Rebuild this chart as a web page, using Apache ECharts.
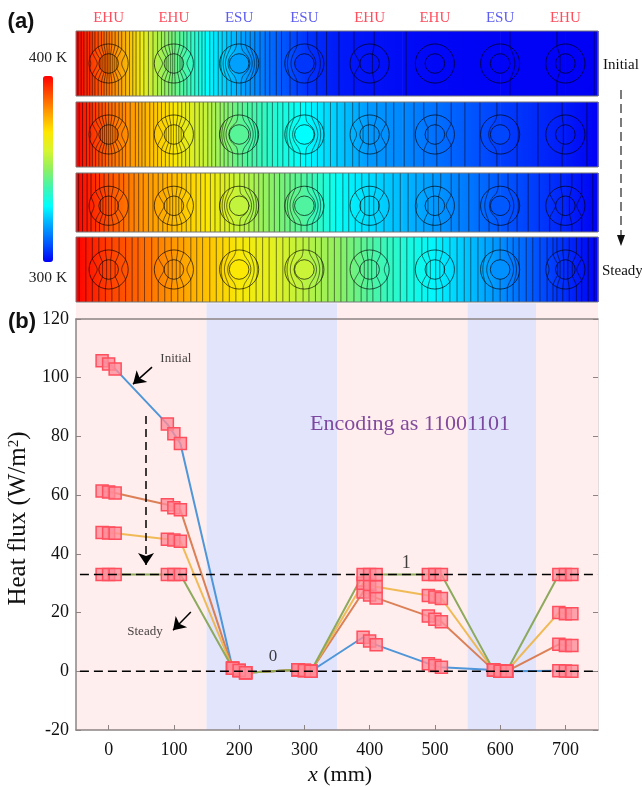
<!DOCTYPE html>
<html><head><meta charset="utf-8">
<style>html,body{margin:0;padding:0;background:#fff}#c{width:642px;height:787px;filter:blur(.3px)}</style>
<script src="https://cdn.jsdelivr.net/npm/echarts@6/dist/echarts.min.js"></script>
</head><body><div id="c"></div>
<script>
// ---------- panel (a) data ----------
const unitCenters=[0,100,200,300,400,500,600,700];
const unitBits=[1,1,0,0,1,1,0,1];
const unitNames=['EHU','EHU','ESU','ESU','EHU','EHU','ESU','EHU'];
const tempX=[-50,0,50,100,150,200,250,300,350,400,450,500,550,600,650,700,750];
const tempP1=[400,385,366,346,330,320,312,306,303,302,301.2,300.8,300.5,300.4,300.3,300.2,300];
const tempP2=[400,387,378,369,357,344,336,330,324,318,316,313,310,307,305,303,300];
const tempP3=[400,390,382,376,369,357,349,342,331,326,322,318,314,310,307,304,300];
const tempP4=[400,392,387,381,375,368,363,356,350,342,335,329,323,317,310,305,300];
const coreP1=[0,0,319,306,0,0,300.5,0];
const coreP2=[0,0,343,330,0,0,308,0];
const coreP3=[0,0,357,342,0,0,310,0];
const coreP4=[0,0,369,358,0,0,317,0];
const isoP1=[-47,-42,-38,-33,-29,-25,-21,-16,-11,-7,-3,1,5,10,15,20,26,32,37,42,48,54,61,68,75,81,86,92,97,102,109,115,120,126,132,138,143,148,155,161,168,174,181,188,196,203,210,217,224,232,240,247,257,265,278,289,305,319,334,353,376,407,456,615,687,744];
const isoP2=[-45,-40,-34,-29,-25,-20,-15,-10,-5,0,5,10,16,21,26,33,41,46,51,56,63,69,75,81,87,93,99,106,112,118,124,132,139,145,152,158,164,171,177,183,190,198,205,213,220,227,235,243,251,259,267,276,284,294,302,311,320,330,340,350,362,374,384,397,411,425,437,453,468,483,503,525,546,569,595,626,658,695,733];
const isoP3=[-46,-40,-33,-27,-20,-14,-7,0,7,16,23,31,39,46,53,61,68,76,83,90,97,105,112,119,126,134,141,148,156,163,171,178,185,192,201,208,215,223,230,237,246,254,262,270,278,286,295,304,312,320,329,339,348,359,368,378,388,399,410,422,436,447,459,471,483,497,509,525,537,552,568,583,597,612,626,643,660,676,693,710,725,742];
const isoP4=[-45,-35,-25,-15,-5,5,16,26,36,45,55,66,76,86,96,106,115,126,135,144,155,165,175,185,195,206,216,226,236,246,257,267,277,287,298,307,317,326,336,346,356,365,376,387,396,405,417,427,436,447,457,468,480,489,502,512,523,534,545,555,566,577,589,600,611,620,629,640,650,661,672,681,687,696,706,717,725,735,744];
const jetColors=['#0000f5','#0058ff','#00a8ff','#00ffff','#40f5b0','#90f060','#d8f52e','#ffe600','#ffa000','#ff5000','#ff0000'];
// ---------- panel (b) data ----------
const xTicks=[0,100,200,300,400,500,600,700];
const xOffsets=[-10,0,10];
const fluxInitial=[105.8,104.7,103, 84.2,80.9,77.6, 1,0.3,-0.5, 0.5,0.3,0, 11.6,10.3,9, 2.6,2,1.4, 0.4,0,0, 0.2,0.1,0];
const fluxStage2=[61.4,61.1,60.7, 56.7,55.7,55, 1,0.3,-0.5, 0.5,0.3,0, 27,26,25, 18.8,17.7,16.9, 0.4,0,0, 9.2,8.8,8.8];
const fluxStage3=[47.3,47.1,47, 45,44.7,44.3, 1,0.3,-0.5, 0.5,0.3,0, 30,29.6,28.8, 25.8,25.3,24.8, 0.4,0,0, 20,19.6,19.6];
const fluxSteady=[33,33,33, 33,33,33, 1,0.3,-0.5, 0.5,0.3,0, 33,33,33, 33,33,33, 0.4,0,0, 33,33,33];
const bandEdges=[-50,150,350,550,655,750];
const bandTop=125.4;

const C=echarts.color;
function jet(K){return C.lerp(Math.max(0,Math.min(1,(K-300)/100)),jetColors);}
const panels=[
 {top:31,h:65,y:[-50,50],T:tempP1,iso:isoP1,core:coreP1},
 {top:102,h:65,y:[-50,50],T:tempP2,iso:isoP2,core:coreP2},
 {top:173,h:59,y:[-40,50],T:tempP3,iso:isoP3,core:coreP3},
 {top:237,h:65,y:[-50,50],T:tempP4,iso:isoP4,core:coreP4}
];
const R2=30,R1=15,Rm=24;
function warp(x,y){
  for(let i=0;i<unitCenters.length;i++){
    const dx=x-unitCenters[i],r=Math.hypot(dx,y);
    if(r<R2){
      let rr;
      if(unitBits[i]){rr=r<Rm? r*R1/Rm : R1+(r-Rm)*(R2-R1)/(R2-Rm);}
      else{rr=R1+r*(R2-R1)/R2;}
      const s=r>0?rr/r:1;
      return [unitCenters[i]+dx*s,y*s];
    }
  }
  return [x,y];
}
const grids=[],xAxes=[],yAxes=[],series=[];
panels.forEach((p,i)=>{
  grids.push({left:76,width:522,top:p.top,height:p.h,show:false,outerBoundsMode:'none'});
  xAxes.push({gridIndex:i,type:'value',min:-50,max:750,show:false});
  yAxes.push({gridIndex:i,type:'value',min:p.y[0],max:p.y[1],show:false});
  const rows=[];for(let k=0;k<tempX.length-1;k++)rows.push([tempX[k],tempX[k+1],p.T[k],p.T[k+1]]);
  series.push({type:'custom',xAxisIndex:i,yAxisIndex:i,silent:true,z:1,data:rows,
    renderItem(ctx,api){
      const a=api.coord([api.value(0),p.y[1]]),b=api.coord([api.value(1),p.y[0]]);
      return {type:'rect',shape:{x:a[0],y:a[1],width:b[0]-a[0]+0.6,height:b[1]-a[1]},
        style:{fill:{type:'linear',x:0,y:0,x2:1,y2:0,colorStops:[{offset:0,color:jet(api.value(2))},{offset:1,color:jet(api.value(3))}]}}};
    }});
  series.push({type:'custom',xAxisIndex:i,yAxisIndex:i,silent:true,z:2,data:p.iso.map(v=>[v]),
    renderItem(ctx,api){
      const x0=api.value(0),pts=[];
      for(let y=p.y[0];y<=p.y[1];y+=1){const w=warp(x0,y);pts.push(api.coord(w));}
      return {type:'polyline',shape:{points:pts},style:{fill:null,stroke:'rgba(0,0,0,0.55)',lineWidth:1}};
    }});
  series.push({type:'custom',xAxisIndex:i,yAxisIndex:i,silent:true,z:3,
    data:unitCenters.map((c,k)=>[c,unitBits[k],p.core[k]]),
    renderItem(ctx,api){
      const c=api.coord([api.value(0),0]),r2=api.size([R2,0])[0],r1=api.size([R1,0])[0];
      const kids=[];
      if(!api.value(1))kids.push({type:'circle',shape:{cx:c[0],cy:c[1],r:r1},style:{fill:jet(api.value(2))}});
      kids.push({type:'circle',shape:{cx:c[0],cy:c[1],r:r1},style:{fill:null,stroke:'rgba(0,0,0,0.65)',lineWidth:1}});
      kids.push({type:'circle',shape:{cx:c[0],cy:c[1],r:r2},style:{fill:null,stroke:'rgba(0,0,0,0.65)',lineWidth:1}});
      return {type:'group',children:kids};
    }});
  series.push({type:'custom',xAxisIndex:i,yAxisIndex:i,silent:true,z:4,clip:false,data:[[0]],
    renderItem(ctx,api){
      const a=api.coord([-50,p.y[1]]),b=api.coord([750,p.y[0]]);
      return {type:'rect',shape:{x:a[0],y:a[1],width:b[0]-a[0],height:b[1]-a[1]},style:{fill:null,stroke:'#777',lineWidth:1}};
    }});
});
// unit labels above the first panel
series.push({type:'scatter',xAxisIndex:0,yAxisIndex:0,symbolSize:0,silent:true,clip:false,z:6,
  data:unitCenters.map((c,k)=>({value:[c,70],label:{show:true,position:'inside',formatter:unitNames[k],
    color:unitBits[k]?'#ff2236':'#3535ee',fontFamily:'Liberation Serif',fontSize:15}}))});
// dummy host for the colour bar
const vmHost=series.length;
series.push({type:'scatter',xAxisIndex:0,yAxisIndex:0,data:[],silent:true});

// ---------- panel (b) ----------
const M=4;
grids.push({left:76,width:522,top:319,height:411,show:false,outerBoundsMode:'none'});
const axisC='#8c8484';
xAxes.push({gridIndex:M,type:'value',min:-50,max:750,z:5,splitLine:{show:false},
  name:'{i|x} (mm)',nameLocation:'middle',nameGap:32,
  nameTextStyle:{fontFamily:'Liberation Serif',fontSize:22,color:'#111',padding:[0,0,0,6],rich:{i:{fontFamily:'Liberation Serif',fontStyle:'italic',fontSize:22,color:'#111'}}},
  axisLine:{show:true,onZero:false,lineStyle:{color:axisC,width:1.5}},
  axisTick:{show:true,inside:true,length:5,lineStyle:{color:axisC},customValues:xTicks},
  axisLabel:{customValues:xTicks,margin:11,fontFamily:'Liberation Serif',fontSize:18,color:'#111'}});
xAxes.push({gridIndex:M,type:'value',position:'top',min:-50,max:750,z:5,splitLine:{show:false},
  axisLine:{show:true,onZero:false,lineStyle:{color:axisC,width:1.5}},
  axisTick:{show:false},axisLabel:{show:false}});
yAxes.push({gridIndex:M,type:'value',min:-20,max:120,interval:20,z:5,splitLine:{show:false},
  name:'{a|Heat flux (W/m}{s|2}{a|)}',nameLocation:'middle',nameRotate:90,nameGap:33,
  nameTextStyle:{padding:[0,0,0,12],rich:{a:{fontFamily:'Liberation Serif',fontSize:25,color:'#111'},s:{fontFamily:'Liberation Serif',fontSize:15,color:'#111',verticalAlign:'top',padding:[0,0,8,0]}}},
  axisLine:{show:true,onZero:false,lineStyle:{color:axisC,width:1.5}},
  axisTick:{show:true,inside:true,length:5,lineStyle:{color:axisC}},
  axisLabel:{margin:7,fontFamily:'Liberation Serif',fontSize:18,color:'#111'}});
yAxes.push({gridIndex:M,type:'value',position:'right',min:-20,max:120,interval:20,z:5,splitLine:{show:false},
  axisLine:{show:true,onZero:false,lineStyle:{color:'#e4dcdc',width:1}},
  axisTick:{show:true,inside:true,length:5,lineStyle:{color:axisC}},axisLabel:{show:false}});
const xM=M,yM=M;
// background bands
const bandRows=[];for(let i=0;i<bandEdges.length-1;i++)bandRows.push([bandEdges[i],bandEdges[i+1],i%2]);
series.push({type:'custom',xAxisIndex:xM,yAxisIndex:yM,silent:true,clip:false,z:0,data:bandRows,
  renderItem(ctx,api){
    const a=api.coord([api.value(0),bandTop]),b=api.coord([api.value(1),-20]);
    return {type:'rect',shape:{x:a[0],y:a[1],width:b[0]-a[0],height:b[1]-a[1]},
      style:{fill:api.value(2)?'#e2e4fb':'#ffeeed'}};
  }});
const xAll=[];xTicks.forEach(c=>xOffsets.forEach(o=>xAll.push(c+o)));
[[fluxInitial,'rgba(70,145,215,0.95)'],[fluxStage2,'rgba(215,115,70,0.9)'],[fluxStage3,'rgba(238,180,70,0.9)'],[fluxSteady,'rgba(135,165,85,0.95)']].forEach(([v,col])=>{
  series.push({type:'line',xAxisIndex:xM,yAxisIndex:yM,silent:true,z:3,data:v.map((y,i)=>[xAll[i],y]),
    lineStyle:{color:col,width:2},symbol:'rect',symbolSize:12,showSymbol:true,showAllSymbols:true,
    itemStyle:{color:'rgba(255,140,152,0.78)',borderColor:'#ff4f5e',borderWidth:1.5}});
});
[33,0].forEach(v=>series.push({type:'line',xAxisIndex:xM,yAxisIndex:yM,silent:true,z:7,symbol:'none',
  data:[[-44,v],[750,v]],lineStyle:{color:'#000',width:1.5,type:[9,5]}}));
// annotations
series.push({type:'lines',coordinateSystem:'cartesian2d',xAxisIndex:xM,yAxisIndex:yM,silent:true,z:8,polyline:false,
  symbol:['none','arrow'],symbolSize:[0,12],
  data:[
   {coords:[[66.5,103.6],[37.4,97.8]],lineStyle:{color:'#000',width:1.5,opacity:1}},
   {coords:[[126,20.2],[98.7,14]],lineStyle:{color:'#000',width:1.5,opacity:1}},
   {coords:[[57.3,87],[57.3,36.2]],lineStyle:{color:'#000',width:1.5,opacity:1,type:[8,5]}}
  ]});
const notes=[[462,84.2,'Encoding as 11001101',22,'#61208a'],[103,106.4,'Initial',13,'#111'],[55.7,13.4,'Steady',13,'#111'],[456,36.9,'1',18,'#111'],[252,4.9,'0',17,'#111']];
series.push({type:'scatter',xAxisIndex:xM,yAxisIndex:yM,symbolSize:0,silent:true,z:9,
  data:notes.map(n=>({value:[n[0],n[1]],label:{show:true,position:'inside',formatter:n[2],fontFamily:'Liberation Serif',fontSize:n[3],color:n[4]}}))});

const txt=(x,y,t,o)=>({type:'text',x,y,silent:true,style:Object.assign({text:t,textAlign:'center',textVerticalAlign:'middle',fontFamily:'Liberation Serif',fontSize:15.5,fill:'#222'},o||{})});
const graphic=[
 txt(21,22,'(a)',{fontFamily:'Liberation Sans',fontWeight:'bold',fontSize:22,fill:'#111'}),
 txt(22,322,'(b)',{fontFamily:'Liberation Sans',fontWeight:'bold',fontSize:22,fill:'#111'}),
 txt(48,58,'400 K'),txt(48,278,'300 K'),
 txt(603,65,'Initial',{textAlign:'left',fontSize:15,fill:'#111'}),
 txt(602,271,'Steady',{textAlign:'left',fontSize:15,fill:'#111'}),
 {type:'line',silent:true,shape:{x1:621,y1:90,x2:621,y2:236},style:{stroke:'#444',lineWidth:1.4,lineDash:[9,5]}},
 {type:'polygon',silent:true,shape:{points:[[617,235],[625,235],[621,246]]},style:{fill:'#111'}}
];
const chart=echarts.init(document.getElementById('c'),null,{renderer:'canvas'});
chart.setOption({animation:false,backgroundColor:'#fff',grid:grids,xAxis:xAxes,yAxis:yAxes,series,graphic,
  visualMap:{type:'continuous',min:300,max:400,seriesIndex:vmHost,left:43,top:76,itemWidth:10,itemHeight:186,padding:0,
    calculable:false,hoverLink:false,realtime:false,text:null,showLabel:false,inRange:{color:jetColors},textStyle:{fontSize:0}}});
</script></body></html>
